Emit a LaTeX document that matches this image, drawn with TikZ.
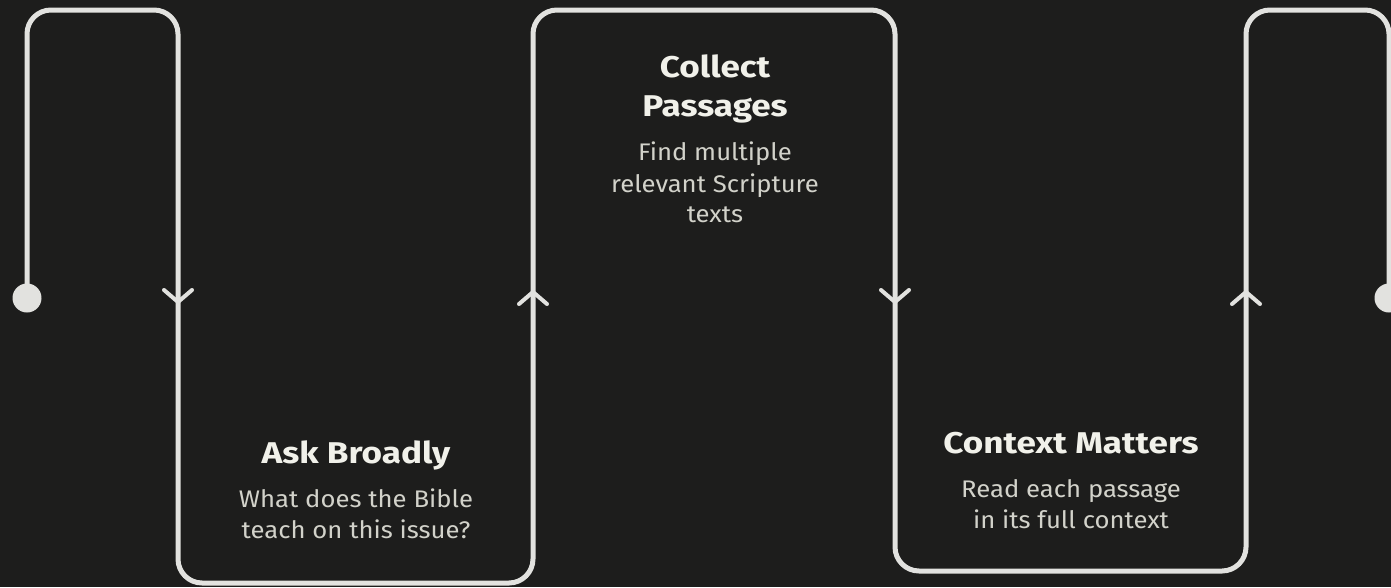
\documentclass[tikz,border=0pt]{standalone}
\usepackage{fontspec}
\setmainfont{Fira Sans}
\newfontfamily\ttlfont[FakeStretch=1.17]{Fira Sans}
\newfontfamily\bdyfont[FakeStretch=1.07]{Fira Sans}
\definecolor{bg}{HTML}{1D1D1C}
\definecolor{ln}{HTML}{E2E2DF}
\definecolor{ttl}{HTML}{F1F1EA}
\definecolor{bdy}{HTML}{D2D2CA}
\begin{document}
\begin{tikzpicture}[x=1pt,y=-1pt,
  flow/.style={draw=ln,line width=5pt,rounded corners=24pt},
  chev/.style={draw=ln,line width=4pt,line cap=round,line join=round},
  enddot/.style={circle,fill=ln,minimum size=29pt,inner sep=0pt},
  ttltext/.style={text=ttl,font=\ttlfont\fontsize{30}{36}\selectfont\bfseries,anchor=base,inner sep=0pt},
  bdytext/.style={text=bdy,font=\bdyfont\fontsize{24}{30}\selectfont,anchor=base,inner sep=0pt}]
\fill[bg] (0,0) rectangle (1391,587);
\useasboundingbox (0,0) rectangle (1391,587);
% end dots
\node[enddot] (start) at (27,298) {};
\node[enddot] (stop) at (1389,298) {};
% corners
\coordinate (c1) at (27,10);
\coordinate (c2) at (178,10);
\coordinate (c3) at (178,583);
\coordinate (c4) at (533,583);
\coordinate (c5) at (533,10);
\coordinate (c6) at (895,10);
\coordinate (c7) at (895,571);
\coordinate (c8) at (1246,571);
\coordinate (c9) at (1246,10);
\coordinate (c10) at (1389,10);
\draw[flow] (start.center) -- (c1) -- (c2) -- (c3) -- (c4) -- (c5) -- (c6) -- (c7) -- (c8) -- (c9) -- (c10) -- (stop.center);
% chevrons
\coordinate (a1) at (178,302);
\coordinate (a2) at (533,292);
\coordinate (a3) at (895,302);
\coordinate (a4) at (1246,292);
\draw[chev] ([shift={(-14,-12)}]a1) -- (a1) -- ([shift={(14,-12)}]a1);
\draw[chev] ([shift={(-14,12)}]a2) -- (a2) -- ([shift={(14,12)}]a2);
\draw[chev] ([shift={(-14,-12)}]a3) -- (a3) -- ([shift={(14,-12)}]a3);
\draw[chev] ([shift={(-14,12)}]a4) -- (a4) -- ([shift={(14,12)}]a4);
% texts
\node[ttltext] (t1) at (356,463) {Ask Broadly};
\node[bdytext] (d1a) at (356,507) {What does the Bible};
\node[bdytext] (d1b) at (356,538) {teach on this issue?};
\node[ttltext] (t2a) at (715,77) {Collect};
\node[ttltext] (t2b) at (715,116) {Passages};
\node[bdytext] (d2a) at (715,160) {Find multiple};
\node[bdytext] (d2b) at (715,192) {relevant Scripture};
\node[bdytext] (d2c) at (715,222) {texts};
\node[ttltext] (t3) at (1071,453) {Context Matters};
\node[bdytext] (d3a) at (1071,497) {Read each passage};
\node[bdytext] (d3b) at (1071,528) {in its full context};
\end{tikzpicture}
\end{document}
